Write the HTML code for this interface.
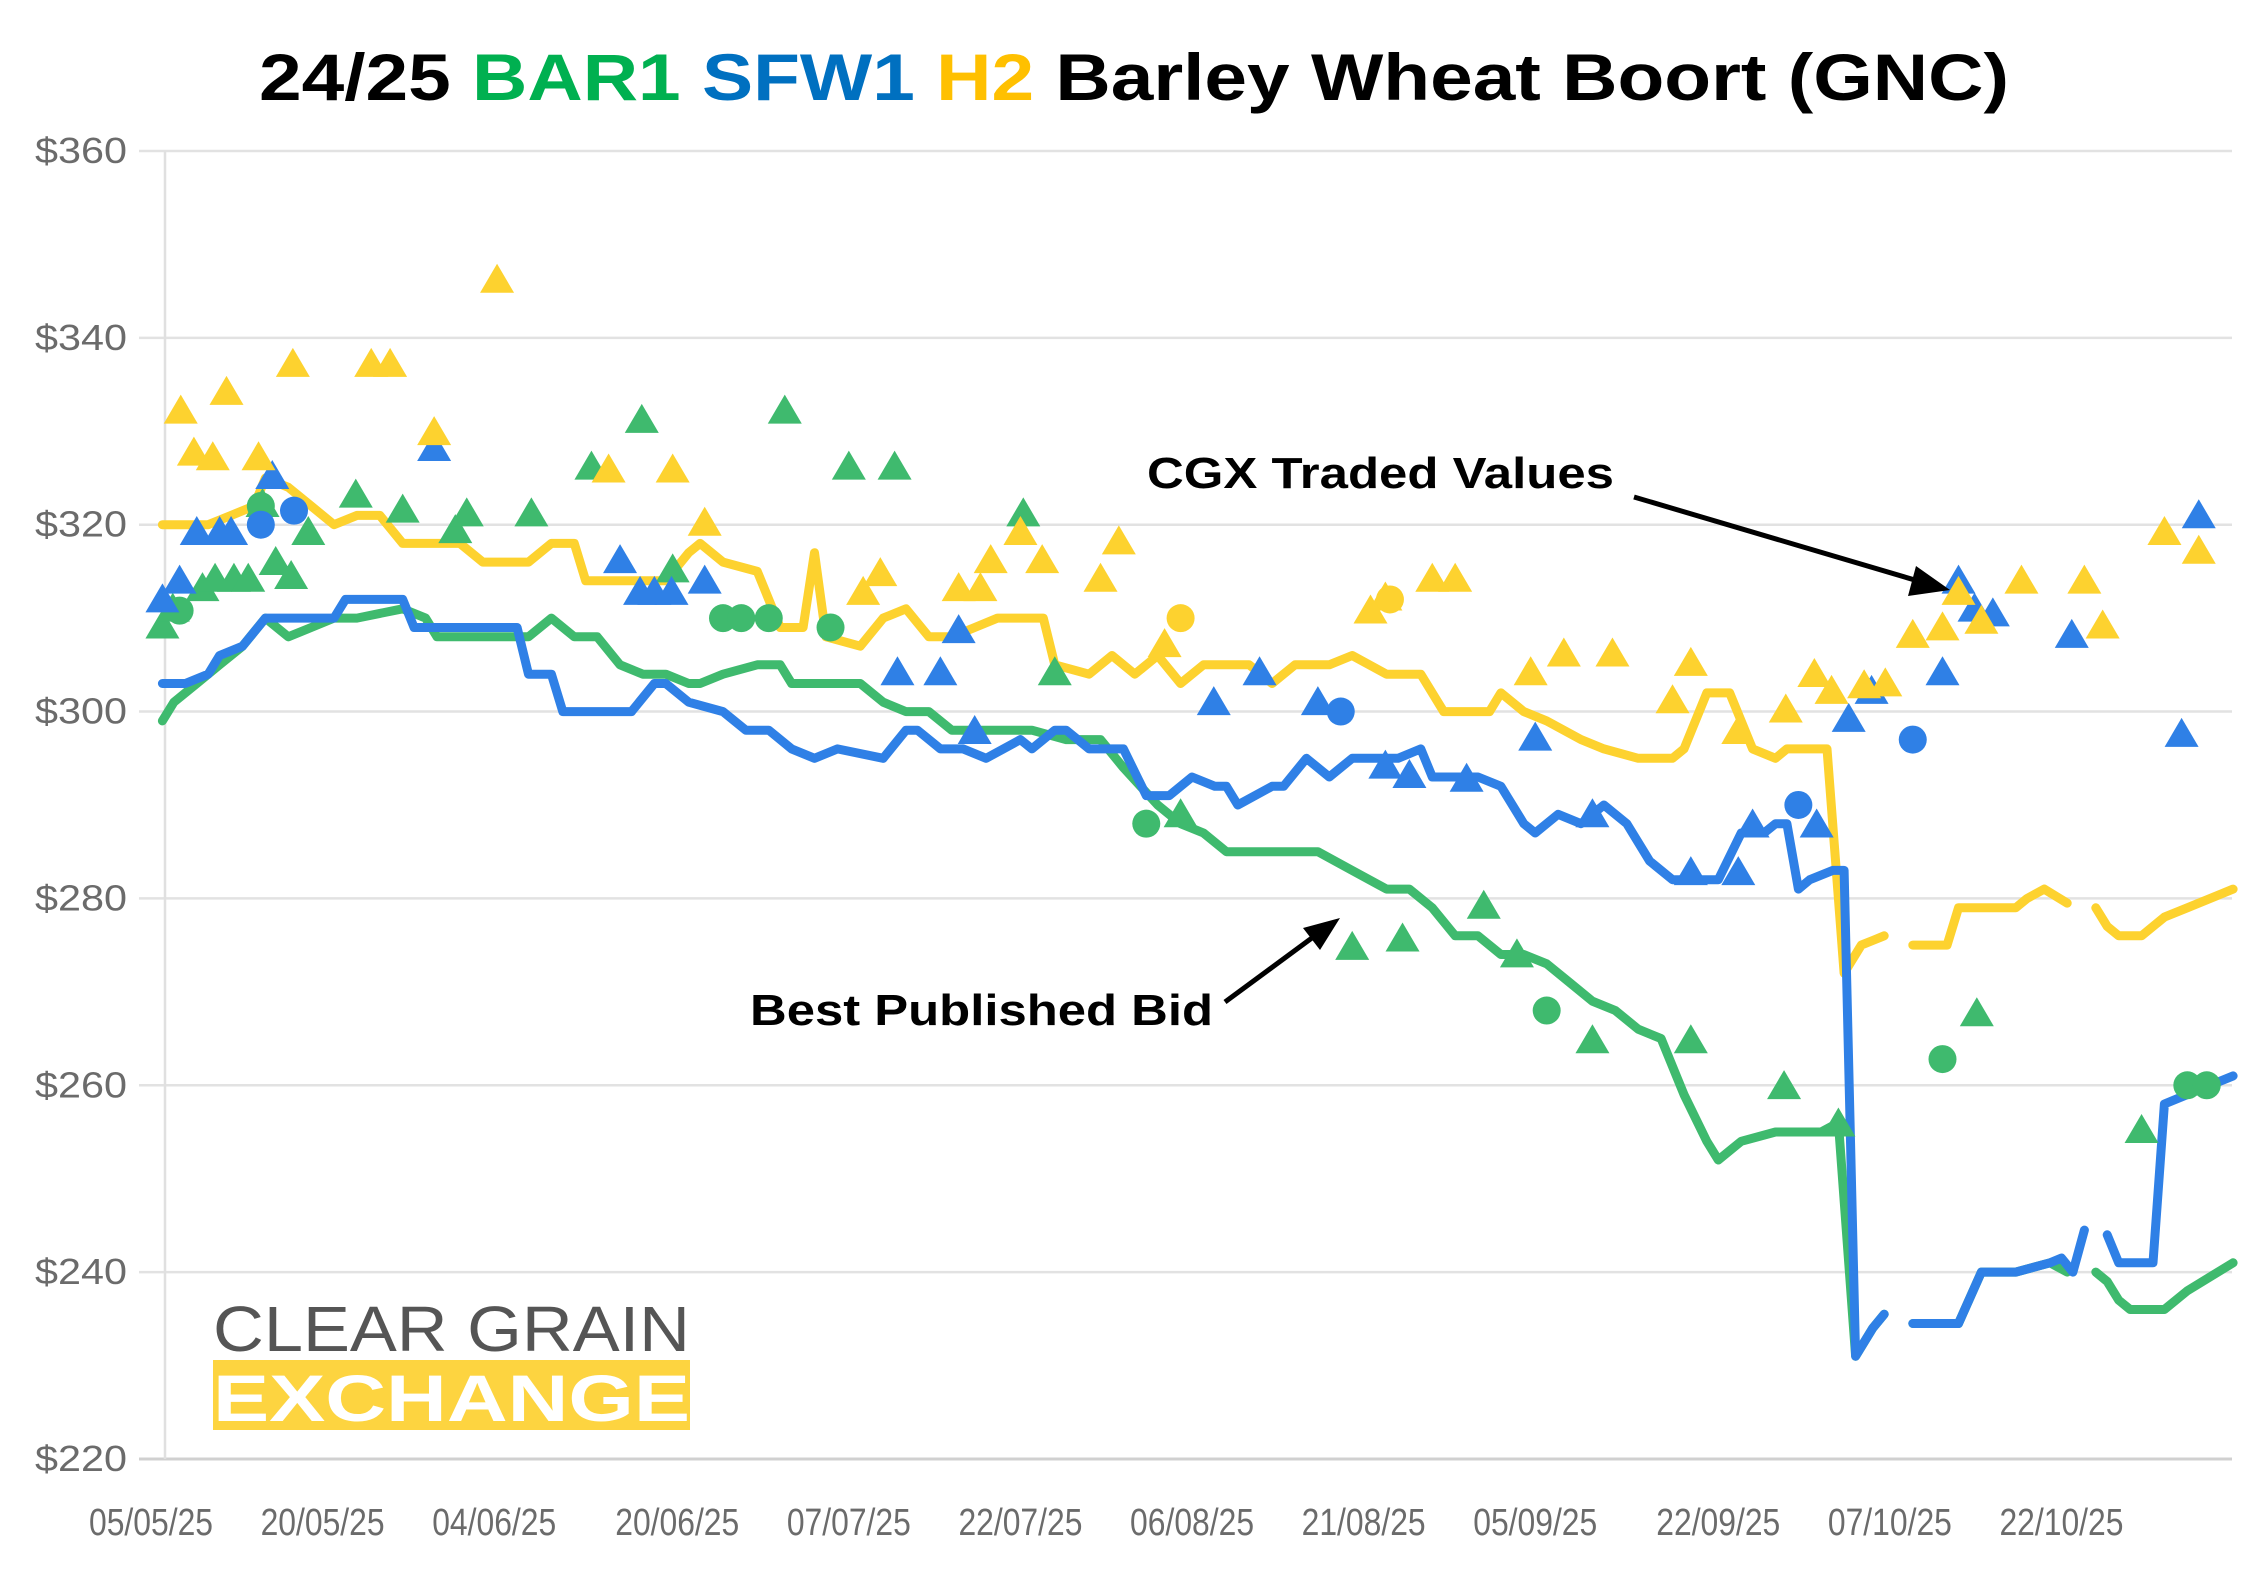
<!DOCTYPE html>
<html><head><meta charset="utf-8"><style>
html,body{margin:0;padding:0;background:#fff;}
svg{display:block;}
</style></head><body>
<svg id="chart" width="2254" height="1590" viewBox="0 0 2254 1590" xmlns="http://www.w3.org/2000/svg" font-family="Liberation Sans, sans-serif">
<text x="259" y="100" font-size="66" font-weight="bold" textLength="1750" lengthAdjust="spacingAndGlyphs"><tspan fill="#000">24/25 </tspan><tspan fill="#00b050">BAR1 </tspan><tspan fill="#0070c0">SFW1 </tspan><tspan fill="#ffc000">H2 </tspan><tspan fill="#000">Barley Wheat Boort (GNC)</tspan></text>
<g id="grid"></g>
<g id="axes"></g>
<g id="logo">
<text x="213" y="1351" font-size="64" fill="#555" textLength="477" lengthAdjust="spacingAndGlyphs">CLEAR GRAIN</text>
<rect x="213" y="1360" width="477" height="70" fill="#fdd440"/>
<text x="213" y="1421" font-size="66" font-weight="bold" fill="#fff" textLength="477" lengthAdjust="spacingAndGlyphs">EXCHANGE</text>
</g>
<g id="lines"></g>
<g id="marks"></g>
<g id="annotations">
<text x="1147" y="488" font-size="44" font-weight="bold" textLength="467" lengthAdjust="spacingAndGlyphs">CGX Traded Values</text>
<line x1="1634" y1="497" x2="1925" y2="583" stroke="#000" stroke-width="5"/>
<polygon points="1950,590 1916,566 1908,596" fill="#000"/>
<text x="750" y="1025" font-size="44" font-weight="bold" textLength="463" lengthAdjust="spacingAndGlyphs">Best Published Bid</text>
<line x1="1225" y1="1002" x2="1320" y2="932" stroke="#000" stroke-width="5"/>
<polygon points="1340,918 1303,928 1320,950" fill="#000"/>
</g>
</svg>
<script>
const yTicks=[220,240,260,280,300,320,340,360];
const xTickLabels=["05/05/25","20/05/25","04/06/25","20/06/25","07/07/25","22/07/25","06/08/25","21/08/25","05/09/25","22/09/25","07/10/25","22/10/25"];
const xTickDays=[0,15,30,46,61,76,91,106,121,137,152,167];

const h2Days=[1,5,7,9,10,12,14,16,18,20,22,27,29,33,35,37,38,42,45,47,48,50,53,55,57,58,59,62,64,66,68,70,72,74,78,79,82,84,86,88,90,92,96,98,100,103,105,108,111,113,115,117,118,120,122,125,127,130,133,134,136,138,140,142,143,144,146.5,148,149.5,150.5,151.5,null,154,157,158,160,163,164,165.5,167.5,null,170,171,172,174,176,178,182];
const h2Vals=[320,320,321,322,325,324,322,320,321,321,318,318,316,316,318,318,314,314,314,317,318,316,315,309,309,317,308,307,310,311,308,308,309,310,310,305,304,306,304,306,303,305,305,303,305,305,306,304,304,300,300,300,302,300,299,297,296,295,295,296,302,302,296,295,296,296,296,272,275,275.5,276,null,275,275,279,279,279,280,281,279.5,null,279,277,276,276,278,279,281];

const sfwDays=[1,3,5,6,8,10,16,17,22,23,32,33,35,36,42,44,45,47,50,52,54,56,58,60,64,66,67,69,71,73,76,77,79,80,82,85,87,89,91,93,94,95,98,99,101,103,105,109,111,112,116,118,120,121,123,125,127,129,131,133,137,139,141,142,143,144,145,147,148,149,150.5,151.5,null,154,157,158,160,163,166,167,168,169,null,171,172,174.5,175,176,178,182];
const sfwVals=[303,303,304,306,307,310,310,312,312,309,309,304,304,300,300,303,303,301,300,298,298,296,295,296,295,298,298,296,296,295,297,296,298,298,296,296,291,291,293,292,292,290,292,292,295,293,295,295,296,293,293,292,288,287,289,288,290,288,284,282,282,287,287,288,288,281,282,283,283,231,234,235.5,null,234.5,234.5,234.5,240,240,241,241.5,240,244.5,null,244,241,241,241,258,259,261];

const barDays=[1,2,4,6,8,10,12,14,16,18,22,24,25,33,35,37,39,41,43,45,47,48,50,53,55,56,62,64,66,68,70,77,80,83,85,88,90,92,94,96,102,105,108,110,112,114,116,118,120,122,124,126,128,130,132,134,136,137,139,142,146,147.5,149,150.5,151.5,null,154,157,158,160,163,166,167.5,null,170,171,172,173,176,178,182];
const barVals=[299,301,303,305,307,310,308,309,310,310,311,310,308,308,310,308,308,305,304,304,303,303,304,305,305,303,303,301,300,300,298,298,297,297,294,290,288,287,285,285,285,283,281,281,279,276,276,274,274,273,271,269,268,266,265,259,254,252,254,255,255,256,231,234,235.5,null,234.5,234.5,234.5,240,240,241,240,null,240,239,237,236,236,238,241];

const yTriDays=[2.6,3.75,5.4,6.6,9.4,12.4,19.25,20.9,24.75,30.25,40,45.6,48.4,62.25,63.75,70.6,72.5,73.4,76,77.9,83,84.6,88.6,106.6,107.9,112,114,120.6,123.5,127.75,133,134.6,138.75,142.9,145.4,146.9,149.75,151.6,154,156.6,158,160,163.5,169,170.6,176,179];
const yTriVals=[332,327.5,327,334,327,337,337,337,329.7,346,325.7,325.7,320,312.6,314.6,313,313,316,319,316,314,318,307,310.6,312,314,314,304,306,306,301,305,297.7,300,303.8,302,302.6,302.8,308,308.8,312.6,309.5,313.8,313.8,309,319,317];
const yCirDays=[90,108.3];
const yCirVals=[310,312];

const bTriDays=[1,2.5,4,6,7,10.6,24.75,41,42.75,44,45.5,48.4,65.25,69,70.6,72,92.9,96.9,102,107.9,110,115,121,126,134.6,138.75,140,145.6,148.4,150.4,156.6,158,159.4,161,167.9,177.5,179];
const bTriVals=[311.8,313.8,319,319,319,325,328,316,312.6,312.6,312.6,313.8,304,304,308.5,297.7,300.8,304,300.8,294,293,292.6,297,288.8,282.6,282.6,287.7,287.7,299,302,304,313.8,310.8,310.3,308,297.4,320.8];
const bCirDays=[9.6,12.5,104,144,154];
const bCirVals=[320,321.5,300,290,297];

const gTriDays=[1,1.9,4.5,5.6,7.25,8.5,9.75,10.9,12.25,13.75,17.9,22,26.6,27.6,33.25,38.5,42.9,45.6,55.4,61,65,76.25,79,90,105,109.4,116.5,119.4,126,134.6,142.75,147.5,159.6,174];
const gTriVals=[309,310.8,313,314,314,314,322,315.8,314.3,319,323,321.4,319.2,321,321,326,331,315,332,326,326,321,304,288.8,274.6,275.5,279,273.8,264.6,264.6,259.7,255.7,267.5,255];
const gCirDays=[2.5,9.6,50,51.6,54,59.4,87,122,156.6,178,179.7];
const gCirVals=[310.8,322,310,310,310,309,288,268,262.8,260,260];

const NS="http://www.w3.org/2000/svg";
const X0=151, DX=11.44, Y0=1459, DY=9.343;
function xs(d){return X0+d*DX;}
function ys(v){return Y0-(v-220)*DY;}
function mk(tag,attrs,parent){const e=document.createElementNS(NS,tag);for(const k in attrs)e.setAttribute(k,attrs[k]);parent.appendChild(e);return e;}

const grid=document.getElementById('grid'), axes=document.getElementById('axes');
yTicks.forEach(v=>{
  const l=mk('line',{x1:139,x2:2232,y1:ys(v),y2:ys(v),stroke:v===220?'#d0d0d0':'#e2e2e2','stroke-width':v===220?3:2.5},grid);
  
  
  const t=mk('text',{x:127,y:ys(v)+12,'text-anchor':'end','font-size':36,fill:'#6b6b6b',textLength:92,lengthAdjust:'spacingAndGlyphs'},axes);
  t.textContent='$'+v;
  
  
});
const va=mk('line',{x1:165,x2:165,y1:ys(360),y2:ys(220),stroke:'#e0e0e0','stroke-width':2.5},grid);


xTickLabels.forEach((s,i)=>{
  const t=mk('text',{x:xs(xTickDays[i]),y:1535,'text-anchor':'middle','font-size':38,fill:'#6b6b6b',textLength:124,lengthAdjust:'spacingAndGlyphs'},axes);
  t.textContent=s;
  
  
});

const linesG=document.getElementById('lines');
function drawLine(days,vals,color,name){
  let d='',pen=false;
  days.forEach((dd,i)=>{
    if(dd===null||vals[i]===null){pen=false;return;}
    d+=(pen?'L':'M')+xs(dd).toFixed(1)+' '+ys(vals[i]).toFixed(1)+' ';pen=true;
  });
  const p=mk('path',{d:d,fill:'none',stroke:color,'stroke-width':9,'stroke-linejoin':'round','stroke-linecap':'round'},linesG);
  
  
}
drawLine(barDays,barVals,'#3fba6e','bar1-bid-line');
drawLine(h2Days,h2Vals,'#fdd22f','h2-bid-line');
drawLine(sfwDays,sfwVals,'#2f80e6','sfw1-bid-line');

const marks=document.getElementById('marks');
function tris(days,vals,color,name){
  days.forEach((d,i)=>{
    const x=xs(d),y=ys(vals[i]);
    const p=mk('polygon',{points:`${x-17},${y+11} ${x+17},${y+11} ${x},${y-18}`,fill:color},marks);
    
    
  });
}
function cirs(days,vals,color,name){
  days.forEach((d,i)=>{
    const c=mk('circle',{cx:xs(d),cy:ys(vals[i]),r:14,fill:color},marks);
    
    
  });
}
tris(gTriDays,gTriVals,'#3fba6e','bar1-trade-triangle');
cirs(gCirDays,gCirVals,'#3fba6e','bar1-trade-circle');
tris(bTriDays,bTriVals,'#2f80e6','sfw1-trade-triangle');
cirs(bCirDays,bCirVals,'#2f80e6','sfw1-trade-circle');
tris(yTriDays,yTriVals,'#fdd22f','h2-trade-triangle');
cirs(yCirDays,yCirVals,'#fdd22f','h2-trade-circle');
</script>
</body></html>
